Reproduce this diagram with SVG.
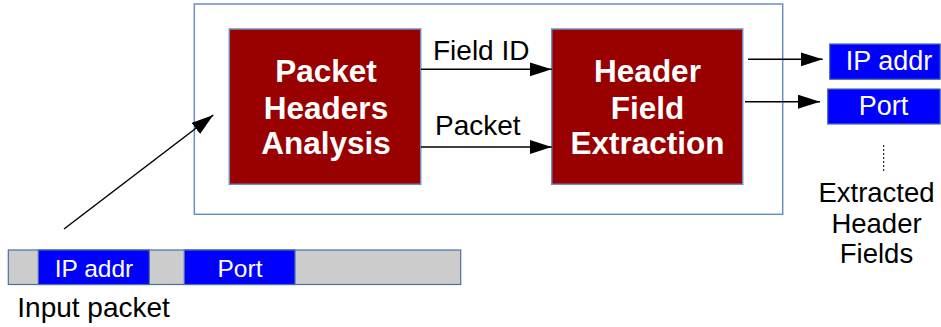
<svg xmlns="http://www.w3.org/2000/svg" width="941" height="327" viewBox="0 0 941 327">
<style>
.frame{fill:#ffffff;stroke:#6a8fc4;stroke-width:1.5}
.red{fill:#990000;stroke:#6c8ebf;stroke-width:1.5}
.blue{fill:#0000ff;stroke:#4a6fa5;stroke-width:1.2}
.grey{fill:#cccccc;stroke:#4a6fa5;stroke-width:1.2}
.bt{font-family:"Liberation Sans",Arial,sans-serif;font-weight:bold;font-size:31.5px;fill:#ffffff;text-anchor:middle}
.wt{font-family:"Liberation Sans",Arial,sans-serif;fill:#ffffff;text-anchor:middle}
.kt{font-family:"Liberation Sans",Arial,sans-serif;fill:#000000}
.ln{stroke:#000000;stroke-width:1.5;fill:none}
</style>
<defs>
<marker id="ah" markerUnits="userSpaceOnUse" markerWidth="24" markerHeight="16" refX="22" refY="7" orient="auto">
<path d="M0,0 L22,7 L0,14 Z" fill="#000000"/>
</marker>
</defs>
<g id="frame"><rect class="frame" x="194.3" y="4" width="588.4" height="210.3"/></g>
<g id="analysis">
<rect class="red" x="229.3" y="29" width="191.4" height="155.3"/>
<text class="bt" x="326" y="81.7">Packet</text>
<text class="bt" x="326" y="119">Headers</text>
<text class="bt" x="326" y="154.3">Analysis</text>
</g>
<g id="extraction">
<rect class="red" x="551.7" y="29" width="191" height="155.3"/>
<text class="bt" x="647.5" y="81.7">Header</text>
<text class="bt" x="647.5" y="119">Field</text>
<text class="bt" x="647.5" y="154.3">Extraction</text>
</g>
<g id="out-ip">
<rect class="blue" x="829.7" y="44" width="110.5" height="35.3"/>
<text class="wt" x="889" y="70" font-size="27">IP addr</text>
</g>
<g id="out-port">
<rect class="blue" x="827.7" y="89" width="112.5" height="35"/>
<text class="wt" x="883.5" y="115" font-size="27">Port</text>
</g>
<g id="extracted-label">
<line x1="883.7" y1="145" x2="883.7" y2="173" stroke="#000000" stroke-width="1" stroke-dasharray="2,2"/>
<text class="kt" font-size="27.5" text-anchor="middle" x="876.5" y="201.7">Extracted</text>
<text class="kt" font-size="27.5" text-anchor="middle" x="876.5" y="233">Header</text>
<text class="kt" font-size="27.5" text-anchor="middle" x="876.5" y="263">Fields</text>
</g>
<g id="input-packet">
<rect class="grey" x="8.3" y="250" width="452.4" height="34.5"/>
<rect class="blue" x="38.3" y="250" width="111" height="34.5"/>
<rect class="blue" x="184.3" y="250" width="110.7" height="34.5"/>
<text class="wt" x="94" y="276.7" font-size="24.5">IP addr</text>
<text class="wt" x="240" y="276.7" font-size="24.5">Port</text>
<text class="kt" font-size="28" x="17.3" y="316.7">Input packet</text>
</g>
<g id="connectors">
<line class="ln" x1="421" y1="69.3" x2="551.7" y2="69.3" marker-end="url(#ah)"/>
<text class="kt" font-size="28" x="433" y="60">Field ID</text>
<line class="ln" x1="421" y1="147" x2="551.7" y2="147" marker-end="url(#ah)"/>
<text class="kt" font-size="28" x="435" y="135">Packet</text>
<line class="ln" x1="748" y1="59.3" x2="822.7" y2="59.3" marker-end="url(#ah)"/>
<line class="ln" x1="745" y1="101.7" x2="820" y2="101.7" marker-end="url(#ah)"/>
<line class="ln" x1="64" y1="229" x2="213.3" y2="115" marker-end="url(#ah)"/>
</g>
</svg>
